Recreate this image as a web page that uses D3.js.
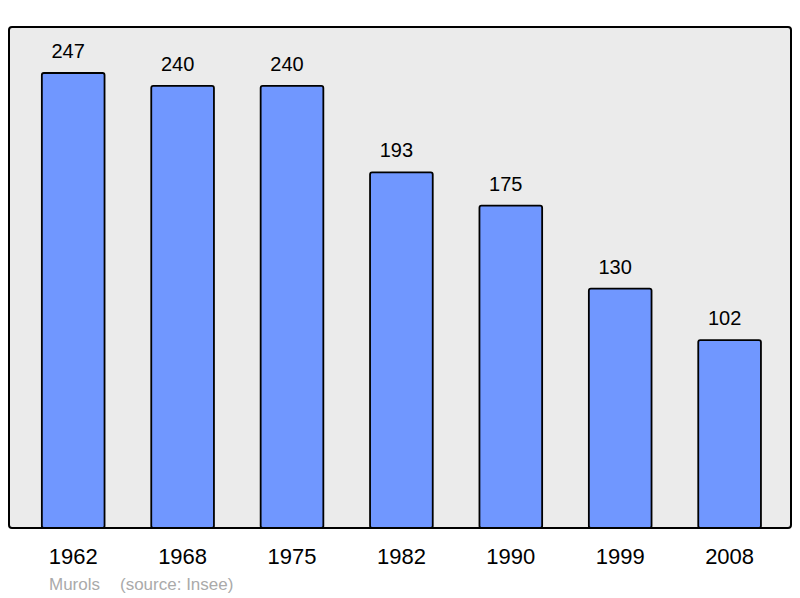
<!DOCTYPE html>
<html><head><meta charset="utf-8">
<script src="https://cdn.jsdelivr.net/npm/d3@7"></script>
<style>body{margin:0;background:#fff}svg{display:block}</style>
</head><body>
<script>
const years = ["1962","1968","1975","1982","1990","1999","2008"];
const population = [247,240,240,193,175,130,102];
const sourceLabel = ["Murols", "(source: Insee)"];

const W = 800, H = 598;
const svg = d3.select("body").append("svg").attr("width", W).attr("height", H);
const font = "Liberation Sans, Arial, sans-serif";

// plot frame
svg.append("rect").attr("x", 9).attr("y", 27).attr("width", 782).attr("height", 501)
  .attr("rx", 3).attr("fill", "#ebebeb").attr("stroke", "#000").attr("stroke-width", 2);

const x = d3.scaleBand().domain(years).range([18.5, 784.3]).paddingInner(0.427).paddingOuter(0.2135);
const y = d3.scaleLinear().domain([0, 247]).range([528, 73]);

svg.selectAll("rect.bar").data(years).join("rect").attr("class","bar")
  .attr("x", d => x(d)).attr("width", x.bandwidth())
  .attr("y", (d,i) => y(population[i])).attr("height", (d,i) => y(0) - y(population[i]))
  .attr("rx", 2).attr("fill", "#7097ff").attr("stroke", "#000").attr("stroke-width", 1.8);

svg.selectAll("text.val").data(years).join("text").attr("class","val")
  .attr("x", d => x(d) + x.bandwidth()/2 - 5).attr("y", (d,i) => y(population[i]) - 15)
  .attr("text-anchor","middle").attr("font-family", font).attr("font-size", 20).attr("fill","#000")
  .text((d,i) => population[i]);

const xAxis = d3.axisBottom(x).tickSize(0).tickPadding(0);
const ax = svg.append("g").attr("transform", "translate(0,548)").call(xAxis);
ax.select(".domain").remove();
ax.selectAll("text").attr("font-family", font).attr("font-size", 22).attr("fill","#000").attr("dy","0.71em");

svg.append("text").attr("x", 49).attr("y", 590).attr("font-family", font).attr("font-size", 17)
  .attr("fill","#aaaaaa").text(sourceLabel[0]);
svg.append("text").attr("x", 120).attr("y", 590).attr("font-family", font).attr("font-size", 17)
  .attr("fill","#aaaaaa").text(sourceLabel[1]);
</script>
</body></html>
